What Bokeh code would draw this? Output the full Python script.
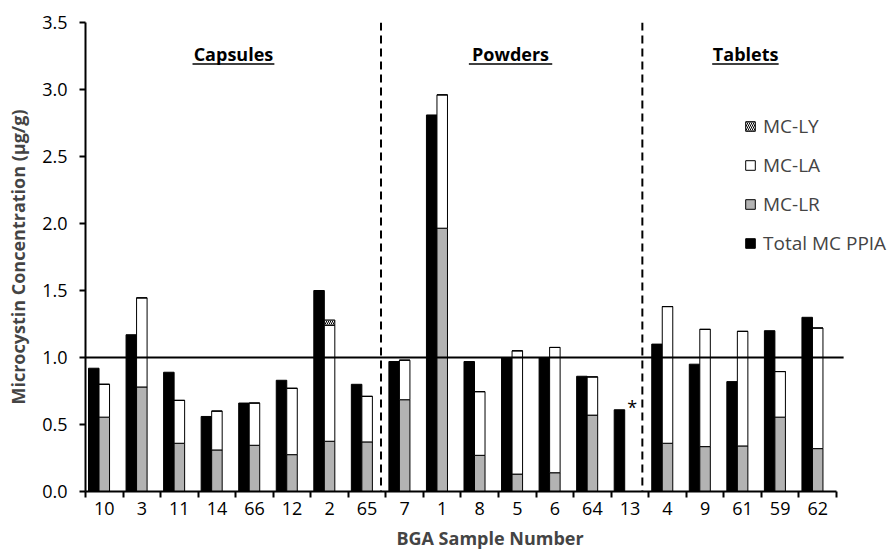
from bokeh.plotting import figure
from bokeh.models import Range1d, FixedTicker, PrintfTickFormatter, Span, Legend, LegendItem, ColumnDataSource
from bokeh.embed import file_html
from bokeh.resources import INLINE
from bokeh.core.properties import value

# ---- data ----
samples = ["10", "3", "11", "14", "66", "12", "2", "65",
           "7", "1", "8", "5", "6", "64", "13",
           "4", "9", "61", "59", "62"]
total_ppia = [0.92, 1.17, 0.89, 0.56, 0.66, 0.83, 1.50, 0.80,
              0.97, 2.81, 0.97, 1.00, 1.00, 0.86, 0.61,
              1.10, 0.95, 0.82, 1.20, 1.30]
mc_lr = [0.555, 0.78, 0.36, 0.31, 0.345, 0.275, 0.375, 0.37,
         0.685, 1.965, 0.27, 0.13, 0.14, 0.57, 0.0,
         0.36, 0.335, 0.34, 0.555, 0.32]
mc_la = [0.245, 0.665, 0.32, 0.29, 0.315, 0.495, 0.865, 0.34,
         0.295, 0.995, 0.475, 0.92, 0.935, 0.285, 0.0,
         1.02, 0.875, 0.855, 0.34, 0.90]
mc_ly = [0.0, 0.0, 0.0, 0.0, 0.0, 0.0, 0.04, 0.0,
         0.0, 0.0, 0.0, 0.0, 0.0, 0.0, 0.0,
         0.0, 0.0, 0.0, 0.0, 0.0]
y_ticks = [0.0, 0.5, 1.0, 1.5, 2.0, 2.5, 3.0, 3.5]
threshold = 1.0

section_names = ["Capsules", "Powders", "Tablets"]
section_x = [3.94, 11.32, 17.58]
section_underline = [(2.85, 5.03), (10.21, 12.43), (16.69, 18.46)]
divider_x = [7.87, 14.83]

FONT = "Open Sans"
n = len(samples)
centers = [i + 0.5 for i in range(n)]
bw = 0.28
line_end = 20.19

src = ColumnDataSource(dict(
    xc=centers,
    xb=[c - bw for c in centers],
    total=total_ppia, lr=mc_lr, la=mc_la, ly=mc_ly,
))

p = figure(width=894, height=552, output_backend="svg", toolbar_location=None,
           x_range=Range1d(0, 21.545), y_range=Range1d(0, 3.5),
           min_border_left=85, min_border_right=0, min_border_top=22, min_border_bottom=60)
p.outline_line_color = None
p.xgrid.visible = False
p.ygrid.visible = False
p.background_fill_color = "white"

black_r = p.vbar(x="xb", top="total", width=bw, source=src,
                 fill_color="black", line_color="black", line_width=1)
stack_r = p.vbar_stack(["lr", "la", "ly"], x="xc", width=bw, source=src,
                       fill_color=["#b3b3b3", "white", "white"],
                       line_color="black", line_width=1,
                       hatch_pattern=[" ", " ", "\\"],
                       hatch_color="black", hatch_scale=4, hatch_weight=1)

# threshold line at 1.0 (ends a little past the last category)
p.segment(x0=[0], y0=[threshold], x1=[line_end], y1=[threshold],
          line_color="black", line_width=2)
for dx in divider_x:
    p.add_layout(Span(location=dx, dimension="height", line_color="black",
                      line_width=2, line_dash="8 5"))

# section titles (underlined)
p.text(x=section_x, y=[3.262] * 3, text=section_names, text_align="center",
       text_baseline="alphabetic", text_font=value(FONT), text_font_style="bold",
       text_font_size="18px", text_color="black")
p.segment(x0=[u[0] for u in section_underline], y0=[3.19] * 3,
          x1=[u[1] for u in section_underline], y1=[3.19] * 3,
          line_color="black", line_width=1.5)

# asterisk for sample 13
p.text(x=[14.56], y=[0.63], text=["*"], text_align="center", text_baseline="alphabetic",
       text_font=value(FONT), text_font_size="18px", text_color="black")

# axes
yax = p.yaxis[0]
yax.ticker = FixedTicker(ticks=y_ticks)
yax.formatter = PrintfTickFormatter(format="%.1f")
yax.axis_label = "Microcystin Concentration (µg/g)"
yax.axis_label_text_font = FONT
yax.axis_label_text_font_style = "bold"
yax.axis_label_text_font_size = "18px"
yax.axis_label_standoff = 9
yax.major_label_text_font = FONT
yax.major_label_text_font_size = "18px"
yax.major_label_text_color = "black"
yax.major_label_standoff = 12
yax.axis_line_width = 2
yax.major_tick_line_width = 2
yax.major_tick_out = 6
yax.major_tick_in = 0
yax.minor_tick_line_color = None

xax = p.xaxis[0]
xax.ticker = FixedTicker(ticks=centers, minor_ticks=list(range(n + 1)))
xax.major_label_overrides = {c: s for c, s in zip(centers, samples)}
xax.bounds = (0, n)
xax.axis_label = "BGA Sample Number"
xax.axis_label_text_font = FONT
xax.axis_label_text_font_style = "bold"
xax.axis_label_text_font_size = "18px"
xax.axis_label_standoff = 8
xax.major_label_text_font = FONT
xax.major_label_text_font_size = "18px"
xax.major_label_text_color = "black"
xax.major_label_standoff = 4
xax.axis_line_width = 2
xax.major_tick_line_color = None
xax.major_tick_out = 6
xax.major_tick_in = 0
xax.minor_tick_line_width = 2
xax.minor_tick_out = 6
xax.minor_tick_in = 0

legend = Legend(items=[
    LegendItem(label="MC-LY", renderers=[stack_r[2]]),
    LegendItem(label="MC-LA", renderers=[stack_r[1]]),
    LegendItem(label="MC-LR", renderers=[stack_r[0]]),
    LegendItem(label="Total MC PPIA", renderers=[black_r]),
], location=(659, 235), border_line_color=None, background_fill_alpha=0,
    padding=0, margin=0, glyph_width=12, glyph_height=12, label_standoff=7,
    label_text_font=FONT, label_text_font_size="19px", label_height=20, spacing=13)
p.add_layout(legend)

open("out.html", "w").write(file_html(p, INLINE))
